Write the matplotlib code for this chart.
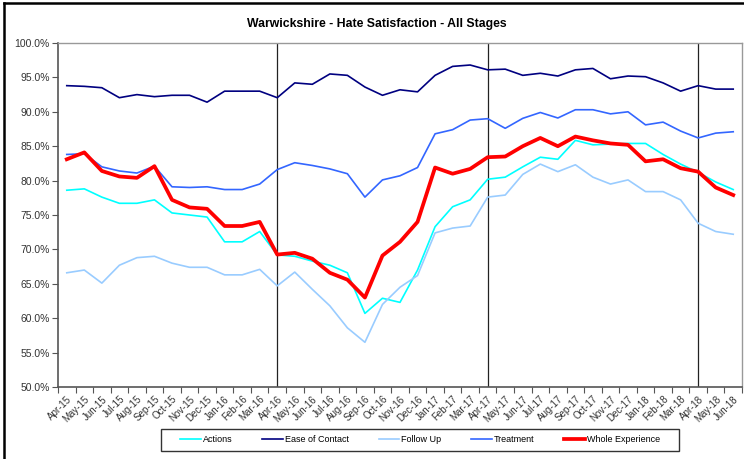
import matplotlib
matplotlib.use("Agg")
import matplotlib.pyplot as plt
from matplotlib.lines import Line2D
from matplotlib.patches import Rectangle
from matplotlib.ticker import FuncFormatter, FixedLocator

plt.rcParams["font.family"] = ["Liberation Sans", "DejaVu Sans"]

months = ["Apr-15", "May-15", "Jun-15", "Jul-15", "Aug-15", "Sep-15", "Oct-15", "Nov-15",
          "Dec-15", "Jan-16", "Feb-16", "Mar-16", "Apr-16", "May-16", "Jun-16", "Jul-16",
          "Aug-16", "Sep-16", "Oct-16", "Nov-16", "Dec-16", "Jan-17", "Feb-17", "Mar-17",
          "Apr-17", "May-17", "Jun-17", "Jul-17", "Aug-17", "Sep-17", "Oct-17", "Nov-17",
          "Dec-17", "Jan-18", "Feb-18", "Mar-18", "Apr-18", "May-18", "Jun-18"]

actions = [78.6, 78.8, 77.6, 76.7, 76.7, 77.2, 75.3, 75.0, 74.7, 71.1,
           71.1, 72.6, 69.2, 69.0, 68.3, 67.7, 66.6, 60.7, 62.9, 62.3,
           67.0, 73.3, 76.2, 77.2, 80.2, 80.5, 82.0, 83.4, 83.1, 85.85,
           85.2, 85.3, 85.4, 85.4, 83.8, 82.4, 81.2, 79.8, 78.7]
ease_of_contact = [93.8, 93.7, 93.5, 92.05, 92.5, 92.2, 92.4, 92.4, 91.4, 93.0,
                   93.0, 93.0, 92.05, 94.2, 94.0, 95.5, 95.3, 93.6, 92.4, 93.2,
                   92.9, 95.3, 96.6, 96.8, 96.1, 96.2, 95.3, 95.6, 95.2, 96.1,
                   96.3, 94.8, 95.2, 95.1, 94.2, 93.0, 93.8, 93.3, 93.3]
follow_up = [66.6, 67.0, 65.1, 67.7, 68.8, 69.0, 68.0, 67.4, 67.4, 66.3,
             66.3, 67.1, 64.7, 66.7, 64.2, 61.8, 58.6, 56.5, 62.0, 64.5,
             66.2, 72.4, 73.1, 73.4, 77.6, 77.9, 80.9, 82.4, 81.3, 82.3,
             80.5, 79.5, 80.1, 78.4, 78.4, 77.2, 73.8, 72.6, 72.2]
treatment = [83.8, 83.9, 82.0, 81.4, 81.1, 82.1, 79.1, 79.0, 79.1, 78.7,
             78.7, 79.5, 81.6, 82.6, 82.2, 81.7, 81.0, 77.6, 80.1, 80.7,
             81.9, 86.8, 87.4, 88.8, 89.0, 87.6, 89.05, 89.9, 89.1, 90.3,
             90.3, 89.7, 90.0, 88.1, 88.5, 87.2, 86.2, 86.9, 87.1]
whole_experience = [83.1, 84.1, 81.4, 80.6, 80.4, 82.1, 77.2, 76.1, 75.9, 73.4,
                    73.4, 74.0, 69.25, 69.5, 68.65, 66.6, 65.6, 63.0, 69.1, 71.1,
                    74.0, 81.9, 81.0, 81.7, 83.4, 83.5, 85.0, 86.2, 85.0, 86.4,
                    85.85, 85.4, 85.2, 82.8, 83.1, 81.8, 81.3, 79.0, 77.9]

fig = plt.figure(figsize=(7.44, 4.59), dpi=100)
ax = fig.add_axes([58 / 744, 72 / 459, 684 / 744, 344 / 459])

x = range(len(months))
ax.plot(x, actions, color="#00FFFF", lw=1.2, label="Actions")
ax.plot(x, ease_of_contact, color="#000080", lw=1.2, label="Ease of Contact")
ax.plot(x, follow_up, color="#99CCFF", lw=1.2, label="Follow Up")
ax.plot(x, treatment, color="#3366FF", lw=1.2, label="Treatment")
ax.plot(x, whole_experience, color="#FF0000", lw=2.7, label="Whole Experience")

# year markers at each April
for i, m in enumerate(months):
    if m.startswith("Apr") and i > 0:
        ax.axvline(i, color="#222222", lw=0.9, zorder=1)

ax.set_xlim(-0.5, len(months) - 0.5)
ax.set_ylim(50, 100)
ax.set_yticks(range(50, 101, 5))
ax.yaxis.set_major_formatter(FuncFormatter(lambda v, p: f"{v:.1f}%"))
ax.tick_params(axis="y", labelsize=7.5, length=4, width=0.8, color="#555555",
               labelcolor="#333333", pad=2)

ax.set_xticks(list(x))
ax.set_xticklabels(months, rotation=45, ha="right", rotation_mode="anchor",
                   fontsize=7, color="#333333")
ax.tick_params(axis="x", which="major", length=0, pad=5)
ax.xaxis.set_minor_locator(FixedLocator([i - 0.5 for i in range(len(months) + 1)]))
ax.tick_params(axis="x", which="minor", length=4, width=0.8, color="#555555")

for side in ["left", "bottom"]:
    ax.spines[side].set_color("#555555")
    ax.spines[side].set_linewidth(1.2)
for side in ["top", "right"]:
    ax.spines[side].set_color("#999999")
    ax.spines[side].set_linewidth(1.0)

fig.text(377 / 744, 1 - 24 / 459, "Warwickshire - Hate Satisfaction - All Stages",
         ha="center", va="center", fontsize=8.8, fontweight="bold")

leg = fig.legend(loc="center", bbox_to_anchor=(420 / 744, 1 - 440 / 459), ncol=5,
                 frameon=False, fontsize=6.5, handlelength=2.3, handletextpad=0.2,
                 columnspacing=3.3)
fig.add_artist(Rectangle((161 / 744, 1 - 451 / 459), 518 / 744, 22 / 459,
                         transform=fig.transFigure, fill=False, edgecolor="#333333", lw=1.0))

# outer chart frame (top and left visible)
fig.add_artist(Line2D([4 / 744, 1], [1 - 3 / 459, 1 - 3 / 459], transform=fig.transFigure,
                      color="black", lw=1.8))
fig.add_artist(Line2D([4 / 744, 4 / 744], [0, 1 - 3 / 459], transform=fig.transFigure,
                      color="black", lw=1.8))

fig.savefig("out.png", dpi=100)
plt.close(fig)
